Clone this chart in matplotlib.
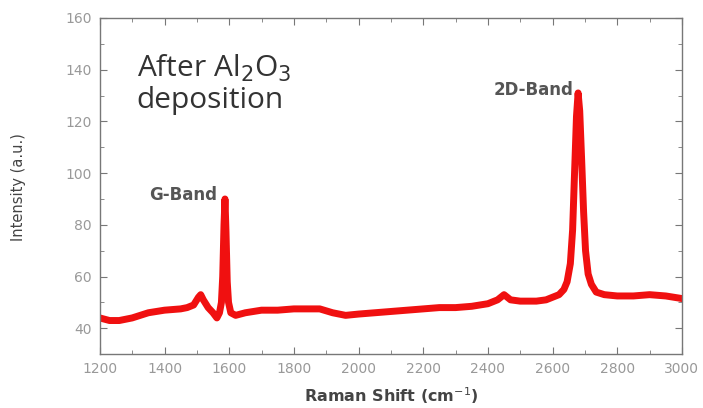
import matplotlib
matplotlib.use("Agg")
import matplotlib.pyplot as plt
from matplotlib.ticker import MultipleLocator

# Raman spectrum (Raman shift cm^-1, intensity a.u.)
shift = [1200, 1230, 1260, 1300, 1350, 1400, 1450, 1470, 1490, 1505, 1512, 1520,
         1535, 1550, 1562, 1570, 1576, 1580, 1584, 1587, 1590, 1594, 1598, 1605,
         1620, 1650, 1700, 1750, 1800, 1850, 1880, 1920, 1960, 2000, 2050, 2100,
         2150, 2200, 2250, 2300, 2350, 2400, 2430, 2450, 2470, 2500, 2550, 2580,
         2600, 2620, 2635, 2645, 2655, 2662, 2668, 2674, 2679, 2684, 2690, 2696,
         2702, 2710, 2720, 2735, 2760, 2800, 2850, 2900, 2950, 3000]
intensity = [44, 43, 43, 44, 46, 47, 47.5, 48, 49, 52, 53, 51,
             48, 46, 44, 46, 50, 60, 80, 90, 78, 58, 50, 46,
             45, 46, 47, 47, 47.5, 47.5, 47.5, 46, 45, 45.5, 46, 46.5,
             47, 47.5, 48, 48, 48.5, 49.5, 51, 53, 51, 50.5, 50.5, 51,
             52, 53, 55, 58, 65, 78, 100, 122, 131, 124, 105, 85,
             70, 61, 57, 54, 53, 52.5, 52.5, 53, 52.5, 51.5]

annotations = [("G-Band", 1457, 89.6), ("2D-Band", 2542, 130.2)]
xticks = [1200, 1400, 1600, 1800, 2000, 2200, 2400, 2600, 2800, 3000]
yticks = [40, 60, 80, 100, 120, 140, 160]

fig = plt.figure(figsize=(7.03, 4.08), dpi=100)
ax = fig.add_axes([0.142, 0.132, 0.828, 0.824])

ax.plot(shift, intensity, color="#f01010", lw=5.0, solid_joinstyle="round")

ax.set_xlim(1200, 3000)
ax.set_ylim(30, 160)
ax.set_xticks(xticks)
ax.set_yticks(yticks)
ax.xaxis.set_minor_locator(MultipleLocator(100))
ax.yaxis.set_minor_locator(MultipleLocator(10))
ax.tick_params(which="both", direction="in", top=True, right=True,
               colors="#777777", labelcolor="#999999", labelsize=10)
ax.tick_params(which="major", length=5)
ax.tick_params(which="minor", length=3)
ax.tick_params(axis="x", pad=6)
ax.tick_params(axis="y", pad=6)
for s in ax.spines.values():
    s.set_color("#777777")
    s.set_linewidth(1.0)

fig.text(391 / 703, 1 - 396 / 408, "Raman Shift (cm$^{-1}$)", fontsize=11.5,
         fontweight="bold", color="#444444", ha="center", va="center")
fig.text(19 / 703, 1 - 187 / 408, "Intensity (a.u.)", fontsize=10.5,
         color="#444444", ha="center", va="center", rotation=90)

for label, x, y in annotations:
    ax.text(x, y, label, fontsize=12, fontweight="bold", color="#555555",
            ha="center", va="baseline")

ax.text(0.0636, 0.897, "After Al$_2$O$_3$\ndeposition", transform=ax.transAxes,
        fontsize=21.5, color="#333333", family="Open Sans", va="top",
        linespacing=1.12)

fig.savefig("out.png", dpi=100)
